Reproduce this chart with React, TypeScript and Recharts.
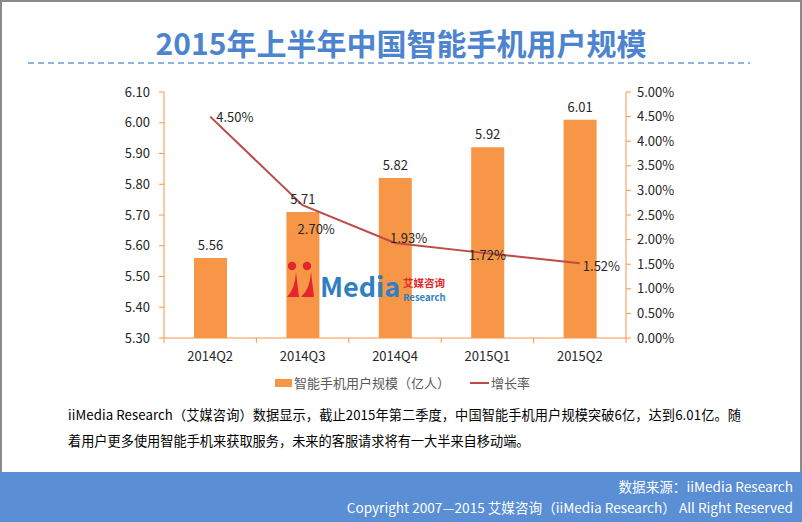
import React from "react";
import { ComposedChart, Bar, Line, XAxis, YAxis, LabelList } from "recharts";

const quarters = ["2014Q2", "2014Q3", "2014Q4", "2015Q1", "2015Q2"];
const userCount = [5.56, 5.71, 5.82, 5.92, 6.01]; // 亿人
const growthRate = [4.5, 2.7, 1.93, 1.72, 1.52]; // %
const userTicks = [5.3, 5.4, 5.5, 5.6, 5.7, 5.8, 5.9, 6.0, 6.1];
const rateTicks = [0, 0.5, 1, 1.5, 2, 2.5, 3, 3.5, 4, 4.5, 5];

const ORANGE = "#F79646";
const RED = "#BE4B48";
const BLUE = "#5A8ED5";
const FONT = "'Noto Sans CJK SC', 'Noto Sans', sans-serif";

// where each growth label sits relative to its point
const rateNudge: [number, number, "start" | "middle"][] = [
  [6, 0, "start"],
  [-5, 23, "start"],
  [-5, -6, "start"],
  [0, 1, "middle"],
  [3, 2, "start"],
];

const RateLabel = (p: any) => {
  const [dx, dy, anchor] = rateNudge[p.index] || [0, 0, "start"];
  return (
    <text x={p.x + dx} y={p.y + dy} textAnchor={anchor} dominantBaseline="central" fontSize={13} fill="#262626">
      {Number(p.value).toFixed(2)}%
    </text>
  );
};

const QuarterTick = (p: any) => {
  const half = 46.2;
  return (
    <g>
      <line x1={p.x - half} x2={p.x - half} y1={p.y - 8} y2={p.y - 3} stroke={ORANGE} />
      {p.index === quarters.length - 1 && (
        <line x1={p.x + half} x2={p.x + half} y1={p.y - 8} y2={p.y - 3} stroke={ORANGE} />
      )}
      <text x={p.x} y={p.y + 9} textAnchor="middle" dominantBaseline="central" fontSize={13} fill="#262626">
        {p.payload.value}
      </text>
    </g>
  );
};

// iiMedia watermark in the middle of the plot
const Logo = () => (
  <svg width={175} height={48} style={{ position: "absolute", left: 283, top: 258 }}>
    <circle cx={9} cy={8} r={4.2} fill="#E3262B" />
    <circle cx={24} cy={8} r={4.2} fill="#E3262B" />
    <path d="M4 39 Q12 31 13 14 L16 39 Z" fill="#E3262B" />
    <path d="M18 39 Q27 31 28 14 L31 39 Z" fill="#E3262B" />
    <text x={37} y={39} fontSize={27} fontWeight="bold" fill="#2F7FC5">
      Media
    </text>
    <text x={120} y={29} fontSize={10.5} fontWeight="bold" fill="#E3262B">
      艾媒咨询
    </text>
    <text x={120} y={42.5} fontSize={9.5} fontWeight="bold" fill="#2F7FC5">
      Research
    </text>
  </svg>
);

export default function App() {
  const data = quarters.map((q, i) => ({ quarter: q, users: userCount[i], rate: growthRate[i] }));

  return (
    <div
      style={{
        position: "absolute",
        left: 0,
        top: 0,
        width: 802,
        height: 522,
        background: "#fff",
        fontFamily: FONT,
        overflow: "hidden",
      }}
    >
      <div
        style={{
          position: "absolute",
          top: 26,
          width: 802,
          textAlign: "center",
          fontSize: 30,
          lineHeight: "32px",
          fontWeight: "bold",
          color: "#4D84CF",
        }}
      >
        2015年上半年中国智能手机用户规模
      </div>
      <svg width={802} height={4} style={{ position: "absolute", left: 0, top: 61 }}>
        <line x1={28} x2={750} y1={2} y2={2} stroke="#6A9AD8" strokeWidth={1.5} strokeDasharray="6 4" />
      </svg>

      <div style={{ position: "absolute", left: 0, top: 0 }}>
        <ComposedChart
          width={802}
          height={372}
          data={data}
          margin={{ top: 92, right: 106, bottom: 4, left: 104 }}
          style={{ fontFamily: FONT }}
        >
          <XAxis
            dataKey="quarter"
            axisLine={{ stroke: ORANGE }}
            tickLine={{ stroke: "none" }}
            tickSize={8}
            tickMargin={0}
            height={30}
            interval={0}
            tick={<QuarterTick />}
          />
          <YAxis
            yAxisId="left"
            width={60}
            domain={[5.3, 6.1]}
            ticks={userTicks}
            tickFormatter={(v: number) => v.toFixed(2)}
            axisLine={{ stroke: ORANGE }}
            tickLine={{ stroke: ORANGE }}
            tickSize={5}
            tickMargin={9}
            tick={{ fontSize: 13, fill: "#262626" }}
            interval={0}
          />
          <YAxis
            yAxisId="right"
            orientation="right"
            width={70}
            domain={[0, 5]}
            ticks={rateTicks}
            tickFormatter={(v: number) => v.toFixed(2) + "%"}
            axisLine={{ stroke: ORANGE }}
            tickLine={{ stroke: ORANGE }}
            tickSize={5}
            tickMargin={6}
            tick={{ fontSize: 13, fill: "#262626", textAnchor: "start" }}
            interval={0}
          />
          <Bar yAxisId="left" dataKey="users" fill={ORANGE} barSize={33} isAnimationActive={false}>
            <LabelList
              dataKey="users"
              position="top"
              offset={8}
              fontSize={13}
              fill="#262626"
              formatter={(v: any) => Number(v).toFixed(2)}
            />
          </Bar>
          <Line
            yAxisId="right"
            dataKey="rate"
            stroke={RED}
            strokeWidth={2}
            dot={false}
            activeDot={false}
            isAnimationActive={false}
          >
            <LabelList dataKey="rate" content={(p: any) => <RateLabel {...p} />} />
          </Line>
        </ComposedChart>
      </div>

      <Logo />

      {/* legend */}
      <div style={{ position: "absolute", left: 275, top: 379, width: 17, height: 8, background: ORANGE }} />
      <div style={{ position: "absolute", left: 294, top: 374, fontSize: 13, lineHeight: "18px", color: "#595959" }}>
        智能手机用户规模（亿人）
      </div>
      <div style={{ position: "absolute", left: 470, top: 382, width: 19, height: 2, background: RED }} />
      <div style={{ position: "absolute", left: 491, top: 374, fontSize: 13, lineHeight: "18px", color: "#595959" }}>
        增长率
      </div>

      <div style={{ position: "absolute", left: 68, top: 402, fontSize: 13.2, lineHeight: "26px", color: "#000", whiteSpace: "nowrap" }}>
        <div style={{ letterSpacing: 0.1 }}>
          iiMedia Research（艾媒咨询）数据显示，截止2015年第二季度，中国智能手机用户规模突破6亿，达到6.01亿。随
        </div>
        <div>着用户更多使用智能手机来获取服务，未来的客服请求将有一大半来自移动端。</div>
      </div>

      <div style={{ position: "absolute", left: 0, top: 0, width: 802, height: 522, boxSizing: "border-box", border: "2px solid #8A8A8A" }} />

      <div
        style={{
          position: "absolute",
          left: 0,
          top: 472,
          width: 802,
          height: 50,
          background: BLUE,
          color: "#fff",
          fontSize: 13.6,
          textAlign: "right",
        }}
      >
        <div style={{ position: "absolute", right: 9, top: 4, lineHeight: "20px", whiteSpace: "nowrap" }}>数据来源：iiMedia Research</div>
        <div style={{ position: "absolute", right: 9, top: 25, lineHeight: "20px", whiteSpace: "nowrap" }}>
          Copyright 2007—2015 艾媒咨询（iiMedia Research） All Right Reserved
        </div>
      </div>
    </div>
  );
}
